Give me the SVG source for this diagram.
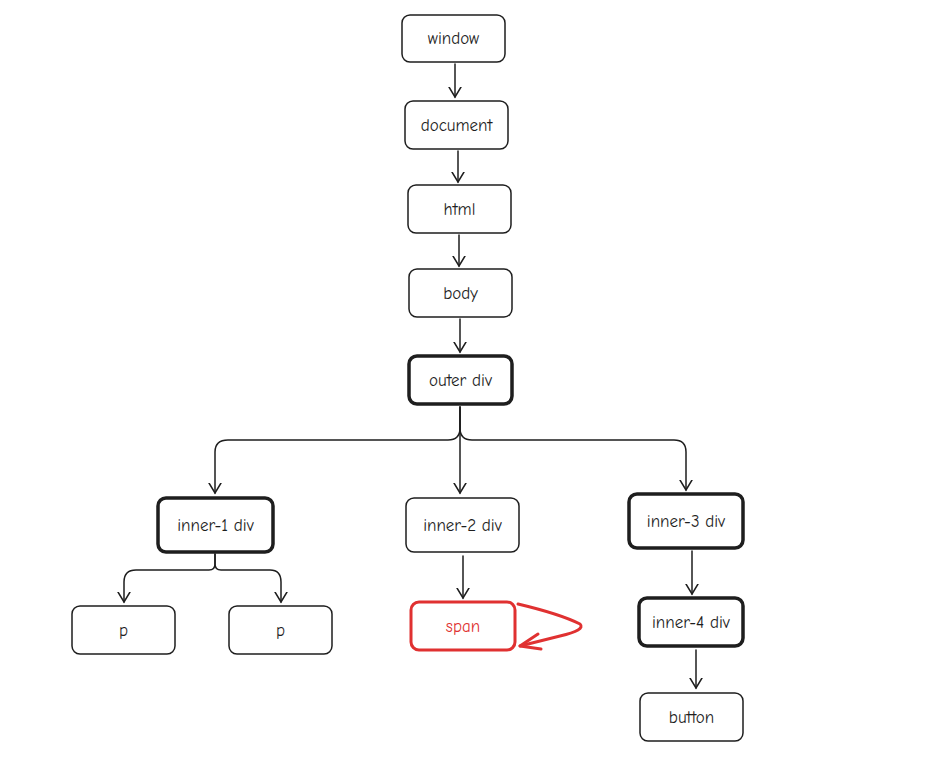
<svg xmlns="http://www.w3.org/2000/svg" width="927" height="757" viewBox="0 0 927 757">
<defs>
<style>
.n{fill:#fff;stroke:#1e1e1e;stroke-width:1.5}
.b{fill:#fff;stroke:#1e1e1e;stroke-width:3.5}
.r{fill:#fff;stroke:#e03131;stroke-width:3}
.t{font-family:"Comic Neue","Liberation Sans",sans-serif;font-size:17px;fill:#1e1e1e;text-anchor:middle;dominant-baseline:central}
.c{fill:none;stroke:#1e1e1e;stroke-width:1.5;stroke-linecap:round;stroke-linejoin:round}
</style>
<marker id="a" markerWidth="20" markerHeight="20" refX="10" refY="10" orient="auto" markerUnits="userSpaceOnUse">
<path d="M0,4 L10,10 L0,16" fill="none" stroke="#1e1e1e" stroke-width="1.5" stroke-linecap="round"/>
</marker>
</defs>
<rect width="927" height="757" fill="#fff"/>
<g id="connectors">
<path class="c" d="M455,64 V97" marker-end="url(#a)"/>
<path class="c" d="M458,151 V182" marker-end="url(#a)"/>
<path class="c" d="M459,235 V266" marker-end="url(#a)"/>
<path class="c" d="M460,319 V352" marker-end="url(#a)"/>
<path class="c" d="M460,407 V428 Q460,440 448,440 H228 Q215,440 215,452 V493" marker-end="url(#a)"/>
<path class="c" d="M460,407 V493" marker-end="url(#a)"/>
<path class="c" d="M460,407 V428 Q460,440 472,440 H674 Q686,440 686,452 V490" marker-end="url(#a)"/>
<path class="c" d="M215,554 V564 Q215,570 209,570 H136 Q124,570 124,582 V602" marker-end="url(#a)"/>
<path class="c" d="M215,554 V564 Q215,570 221,570 H270 Q281,570 281,582 V602" marker-end="url(#a)"/>
<path class="c" d="M463,556 V598" marker-end="url(#a)"/>
<path class="c" d="M692,551 V594" marker-end="url(#a)"/>
<path class="c" d="M696,650 V688" marker-end="url(#a)"/>
<g fill="none" stroke="#e03131" stroke-width="3" stroke-linecap="round" stroke-linejoin="round">
<path d="M518,604 Q560,614 580,624 Q586,630 560,636 L520,646"/>
<path d="M520,646 L538,634 M520,646 L541,649"/>
</g>
</g>
<g id="window"><rect class="n" x="402" y="15" width="103" height="47" rx="8"/><text class="t" x="453.5" y="38.5">window</text></g>
<g id="document"><rect class="n" x="405" y="101" width="103" height="48" rx="8"/><text class="t" x="456.5" y="125">document</text></g>
<g id="html"><rect class="n" x="408" y="185" width="103" height="48" rx="8"/><text class="t" x="459.5" y="209">html</text></g>
<g id="body"><rect class="n" x="409" y="269" width="103" height="48" rx="8"/><text class="t" x="460.5" y="293">body</text></g>
<g id="outer"><rect class="b" x="409" y="356" width="103" height="48" rx="8"/><text class="t" x="460.5" y="380">outer div</text></g>
<g id="inner1"><rect class="b" x="158" y="498" width="115" height="54" rx="8"/><text class="t" x="215.5" y="525">inner-1 div</text></g>
<g id="inner2"><rect class="n" x="406" y="498" width="113" height="54" rx="8"/><text class="t" x="462.5" y="525">inner-2 div</text></g>
<g id="inner3"><rect class="b" x="629" y="494" width="114" height="54" rx="8"/><text class="t" x="686" y="521">inner-3 div</text></g>
<g id="p1"><rect class="n" x="72" y="606" width="103" height="48" rx="8"/><text class="t" x="123.5" y="630">p</text></g>
<g id="p2"><rect class="n" x="229" y="606" width="103" height="48" rx="8"/><text class="t" x="280.5" y="630">p</text></g>
<g id="span"><rect class="r" x="411" y="602" width="104" height="48" rx="8"/><text class="t" x="463" y="626" style="fill:#e03131">span</text></g>
<g id="inner4"><rect class="b" x="639" y="598" width="104" height="48" rx="8"/><text class="t" x="691" y="622">inner-4 div</text></g>
<g id="button"><rect class="n" x="640" y="693" width="103" height="48" rx="8"/><text class="t" x="691.5" y="717">button</text></g>
</svg>
